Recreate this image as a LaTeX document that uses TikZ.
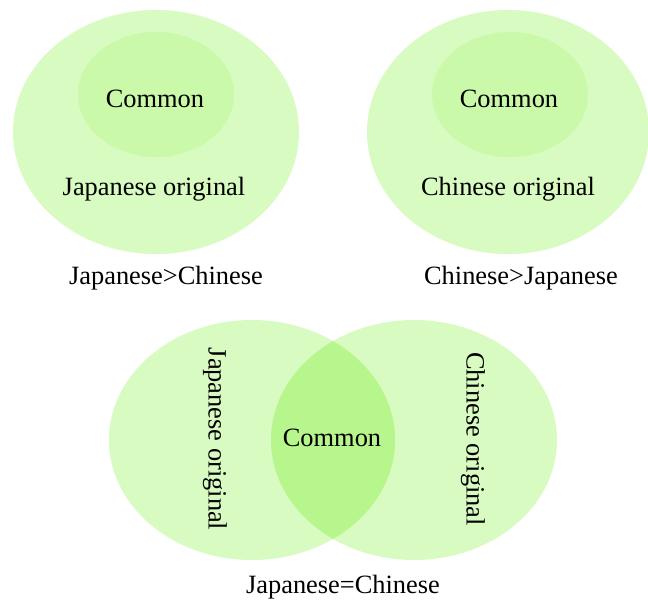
\documentclass[tikz,border=0pt]{standalone}
\usepackage{fontspec}
\setmainfont{Liberation Serif}
\definecolor{outerg}{HTML}{D8FBC2}
\definecolor{innerg}{HTML}{C9F9A9}
\definecolor{lensg}{HTML}{B6F68C}
\tikzset{
  lbl/.style={font=\fontsize{26.4}{30}\selectfont, text=black, inner sep=0pt},
  captext/.style={font=\fontsize{26.4}{30}\selectfont, text=black, inner sep=0pt},
}
\begin{document}
\begin{tikzpicture}[x=1pt,y=-1pt]
\useasboundingbox (0,0) rectangle (648,600);
% top-left
\fill[outerg] (156,132) ellipse [x radius=143, y radius=122];
\fill[innerg] (156,94.5) ellipse [x radius=78, y radius=62.5];
\node[lbl] (c1) at (155,98.5) {Common};
\node[lbl] (j1) at (154,189) {Japanese original};
\node[captext] (t1) at (166,278) {Japanese>Chinese};
% top-right
\fill[outerg] (508,132) ellipse [x radius=141, y radius=122];
\fill[innerg] (510,94.5) ellipse [x radius=78, y radius=62.5];
\node[lbl] (c2) at (509,98.5) {Common};
\node[lbl] (h2) at (508,189) {Chinese original};
\node[captext] (t2) at (521,278) {Chinese>Japanese};
% bottom venn
\fill[outerg] (252,440) ellipse [x radius=143, y radius=120];
\fill[outerg] (414,440) ellipse [x radius=143, y radius=120];
\begin{scope}
  \clip (252,440) ellipse [x radius=143, y radius=120];
  \fill[lensg] (414,440) ellipse [x radius=143, y radius=120];
\end{scope}
\node[lbl] (c3) at (332,437.5) {Common};
\node[lbl, rotate=-90] (j3) at (215,439) {Japanese original};
\node[lbl, rotate=-90] (h3) at (473,439) {Chinese original};
\node[captext] (t3) at (343,587.5) {Japanese=Chinese};
\end{tikzpicture}
\end{document}
